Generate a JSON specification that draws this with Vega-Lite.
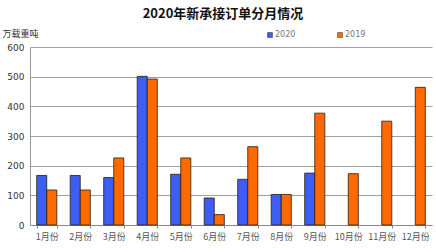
{
  "$schema": "https://vega.github.io/schema/vega-lite/v6.json",
  "autosize": "none",
  "width": 402,
  "height": 178,
  "padding": {"left": 30, "top": 47, "right": 4, "bottom": 27},
  "background": "white",
  "title": {
    "text": "2020年新承接订单分月情况",
    "font": "Noto Sans CJK SC",
    "fontSize": 13,
    "fontWeight": "bold",
    "color": "#111111",
    "anchor": "middle",
    "dx": -8,
    "offset": 8
  },
  "data": {
    "values": [
      {"month": "1月份", "year": "2020", "value": 167},
      {"month": "1月份", "year": "2019", "value": 118},
      {"month": "2月份", "year": "2020", "value": 167},
      {"month": "2月份", "year": "2019", "value": 118},
      {"month": "3月份", "year": "2020", "value": 160},
      {"month": "3月份", "year": "2019", "value": 226},
      {"month": "4月份", "year": "2020", "value": 501},
      {"month": "4月份", "year": "2019", "value": 492},
      {"month": "5月份", "year": "2020", "value": 171},
      {"month": "5月份", "year": "2019", "value": 226},
      {"month": "6月份", "year": "2020", "value": 91},
      {"month": "6月份", "year": "2019", "value": 35},
      {"month": "7月份", "year": "2020", "value": 154},
      {"month": "7月份", "year": "2019", "value": 264},
      {"month": "8月份", "year": "2020", "value": 103},
      {"month": "8月份", "year": "2019", "value": 103},
      {"month": "9月份", "year": "2020", "value": 175},
      {"month": "9月份", "year": "2019", "value": 377},
      {"month": "10月份", "year": "2019", "value": 173},
      {"month": "11月份", "year": "2019", "value": 350},
      {"month": "12月份", "year": "2019", "value": 464}
    ]
  },
  "mark": {"type": "bar", "stroke": "#2a1a10", "strokeWidth": 0.8},
  "encoding": {
    "x": {
      "field": "month",
      "type": "nominal",
      "sort": ["1月份","2月份","3月份","4月份","5月份","6月份","7月份","8月份","9月份","10月份","11月份","12月份"],
      "scale": {"paddingInner": 0.4, "paddingOuter": 0.2},
      "axis": {
        "title": null,
        "labelAngle": 0,
        "labelFont": "Noto Sans CJK SC",
        "labelFontSize": 9,
        "labelColor": "#555555",
        "labelPadding": 4,
        "domainColor": "#888888",
        "tickColor": "#888888",
        "tickSize": 3,
        "tickBand": "extent",
        "ticks": true
      }
    },
    "xOffset": {"field": "year", "type": "nominal", "sort": ["2020", "2019"]},
    "y": {
      "field": "value",
      "type": "quantitative",
      "scale": {"domain": [0, 600]},
      "axis": {
        "values": [0, 100, 200, 300, 400, 500, 600],
        "title": "万载重吨",
        "titleAngle": 0,
        "titleX": -28,
        "titleY": -14,
        "titleAlign": "left",
        "titleBaseline": "middle",
        "titleFont": "Noto Sans CJK SC",
        "titleFontSize": 9,
        "titleFontWeight": "normal",
        "titleColor": "#333333",
        "labelFont": "DejaVu Sans",
        "labelFontSize": 9,
        "labelColor": "#333333",
        "labelPadding": 6,
        "ticks": false,
        "domainColor": "#999999",
        "gridColor": "#a0a0a0",
        "gridWidth": 1
      }
    },
    "color": {
      "field": "year",
      "type": "nominal",
      "sort": ["2020", "2019"],
      "scale": {"domain": ["2020", "2019"], "range": ["#3d5ef2", "#ff6a00"]},
      "legend": {
        "title": null,
        "orient": "none",
        "direction": "horizontal",
        "legendX": 236,
        "legendY": -16,
        "symbolType": "square",
        "symbolSize": 25,
        "symbolStrokeColor": "#333333",
        "symbolStrokeWidth": 0.5,
        "labelFont": "DejaVu Sans",
        "labelFontSize": 8,
        "labelColor": "#777777",
        "labelOffset": 1,
        "columnPadding": 40
      }
    }
  },
  "config": {"view": {"stroke": null}}
}
